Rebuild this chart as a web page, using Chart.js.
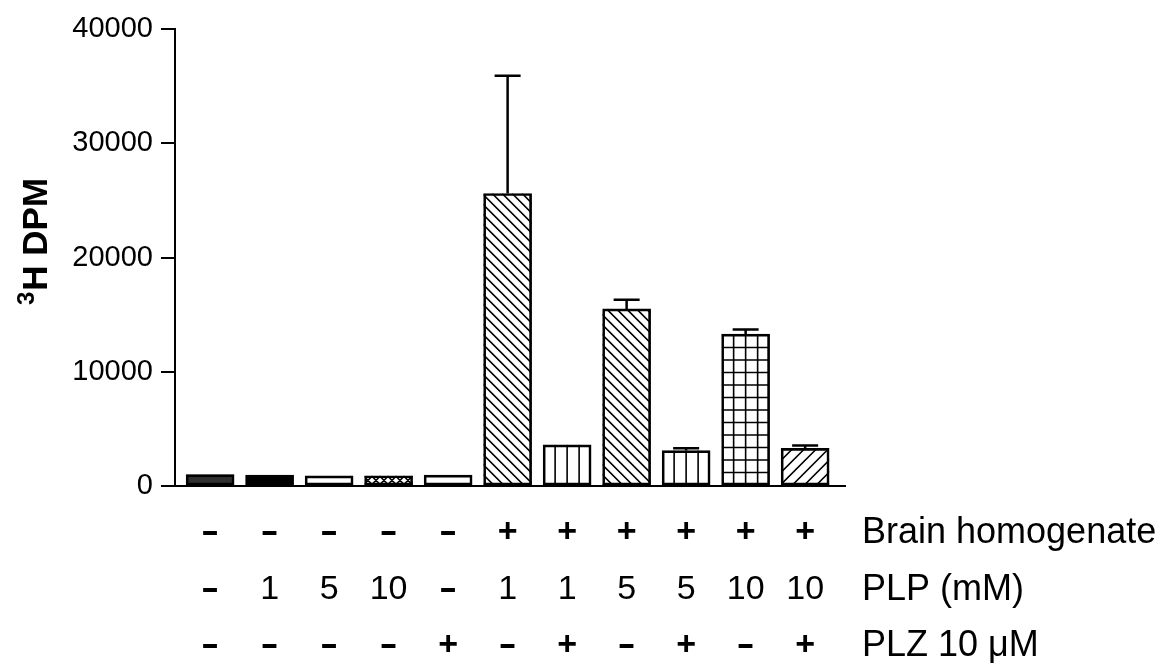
<!DOCTYPE html>
<html><head><meta charset="utf-8">
<script src="https://cdn.jsdelivr.net/npm/chart.js@4/dist/chart.umd.min.js"></script>
<style>html,body{margin:0;padding:0;background:#fff}</style>
</head><body>
<canvas id="c" width="1162" height="670"></canvas>
<script>
const barIndex = [0,1,2,3,4,5,6,7,8,9,10];
const values = [1000, 950, 880, 900, 950, 25600, 3600, 15500, 3100, 13300, 3300];
const errors = [0, 0, 0, 0, 0, 10300, 0, 800, 200, 400, 250];
const patterns = ['dark','black','white','cross','white','back','vert','back','vert','grid','fwd'];
const brainRow = ['-','-','-','-','-','+','+','+','+','+','+'];
const plpRow = ['-','1','5','10','-','1','1','5','5','10','10'];
const plzRow = ['-','-','-','-','+','-','+','-','+','-','+'];
const rowTitles = ['Brain homogenate','PLP (mM)','PLZ 10 \u03bcM'];
const yTicks = [0, 10000, 20000, 30000, 40000];

const FONT = '"Liberation Sans", Arial, sans-serif';

const hatchPlugin = {
  id:'hatch',
  beforeDatasetsDraw(chart){
    const ctx = chart.ctx;
    const meta = chart.getDatasetMeta(0);
    meta.data.forEach((el,i)=>{
      const l = el.x - el.width/2, r = el.x + el.width/2, t = el.y, b = el.base;
      const p = patterns[i];
      ctx.save();
      ctx.beginPath(); ctx.rect(l, t, r-l, b-t); ctx.clip();
      ctx.fillStyle = p==='dark' ? '#303030' : p==='black' ? '#000' : '#fff';
      ctx.fillRect(l, t, r-l, b-t);
      ctx.strokeStyle = '#000'; ctx.lineWidth = 1.6;
      ctx.beginPath();
      const w = r-l, h = b-t;
      if (p==='vert' || p==='grid'){
        for (let k=1;k<4;k++){ const x = l + w*k/4; ctx.moveTo(x,t); ctx.lineTo(x,b); }
      }
      if (p==='grid'){
        for (let y=b-12.5; y>t; y-=12.5){ ctx.moveTo(l,y); ctx.lineTo(r,y); }
      }
      if (p==='back' || p==='cross'){
        const s = p==='back' ? 10 : 8;
        for (let x=l-h; x<r; x+=s){ ctx.moveTo(x,t); ctx.lineTo(x+h,b); }
      }
      if (p==='fwd' || p==='cross'){
        const s = p==='fwd' ? 12 : 8;
        for (let x=l; x<r+h; x+=s){ ctx.moveTo(x,t); ctx.lineTo(x-h,b); }
      }
      ctx.stroke();
      ctx.restore();
    });
  }
};

const errPlugin = {
  id:'err',
  afterDatasetsDraw(chart){
    const ctx = chart.ctx, ys = chart.scales.y;
    const meta = chart.getDatasetMeta(0);
    ctx.save(); ctx.strokeStyle='#000'; ctx.lineWidth=2.5;
    meta.data.forEach((el,i)=>{
      if (!errors[i]) return;
      const yt = ys.getPixelForValue(values[i]+errors[i]);
      ctx.beginPath();
      ctx.moveTo(el.x, el.y); ctx.lineTo(el.x, yt);
      ctx.moveTo(el.x-13, yt); ctx.lineTo(el.x+13, yt);
      ctx.stroke();
    });
    ctx.restore();
  }
};

const textPlugin = {
  id:'texts',
  afterDraw(chart){
    const ctx = chart.ctx, xs = chart.scales.x;
    ctx.save();
    ctx.fillStyle='#000';
    // y title
    ctx.save();
    ctx.translate(47, 242);
    ctx.rotate(-Math.PI/2);
    ctx.textBaseline='alphabetic';
    ctx.font = 'bold 24px '+FONT;
    const w3 = ctx.measureText('3').width;
    ctx.font = 'bold 35px '+FONT;
    const wm = ctx.measureText('H DPM').width;
    const x0 = -(w3+wm)/2;
    ctx.font = 'bold 24px '+FONT;
    ctx.textAlign='left';
    ctx.fillText('3', x0, -13);
    ctx.font = 'bold 35px '+FONT;
    ctx.fillText('H DPM', x0+w3+1, 0);
    ctx.restore();
    // condition rows
    const rows = [brainRow, plpRow, plzRow];
    const rowY = [533, 590, 646];
    ctx.textBaseline='middle';
    rows.forEach((row, r)=>{
      row.forEach((txt,i)=>{
        const x = xs.getPixelForValue(barIndex[i]);
        ctx.textAlign='center';
        ctx.font = (txt==='+'||txt==='-' ? 'bold ' : '') + '34px ' + FONT;
        if (txt==='-'){
          ctx.save();
          ctx.translate(x, rowY[r]);
          ctx.scale(1.6, 1);
          ctx.fillText(txt, 0, 0);
          ctx.restore();
        } else {
          ctx.fillText(txt, x, rowY[r]);
        }
      });
      ctx.textAlign='left';
      ctx.font = '36px '+FONT;
      ctx.fillText(rowTitles[r], 862, rowY[r]);
    });
    ctx.restore();
  }
};

new Chart(document.getElementById('c'), {
  type:'bar',
  data:{
    datasets:[{
      data: barIndex.map((x,i)=>({x:x, y:values[i]})),
      backgroundColor:'rgba(0,0,0,0)',
      borderColor:'#000',
      borderWidth:2,
      borderSkipped:false,
      barThickness:48
    }]
  },
  options:{
    responsive:false,
    animation:false,
    devicePixelRatio:1,
    layout:{padding:{top:29, right:317, bottom:0, left:0}},
    plugins:{legend:{display:false}, tooltip:{enabled:false}},
    scales:{
      x:{
        type:'linear', min:-0.59, max:10.67, offset:false,
        grid:{display:false, drawTicks:false, offset:false},
        ticks:{display:false},
        border:{display:true, color:'#000', width:2},
        afterFit(s){ s.height = 670-486; }
      },
      y:{
        min:0, max:40000,
        afterBuildTicks(s){ s.ticks = yTicks.map(v=>({value:v})); },
        ticks:{color:'#000', font:{family:FONT, size:29}, padding:8, callback:(v)=>String(v)},
        grid:{display:true, drawOnChartArea:false, drawTicks:true, tickLength:14, color:'#000', lineWidth:2},
        border:{display:true, color:'#000', width:2},
        afterFit(s){ s.width = 175; }
      }
    }
  },
  plugins:[hatchPlugin, errPlugin, textPlugin]
});
</script>
</body></html>
